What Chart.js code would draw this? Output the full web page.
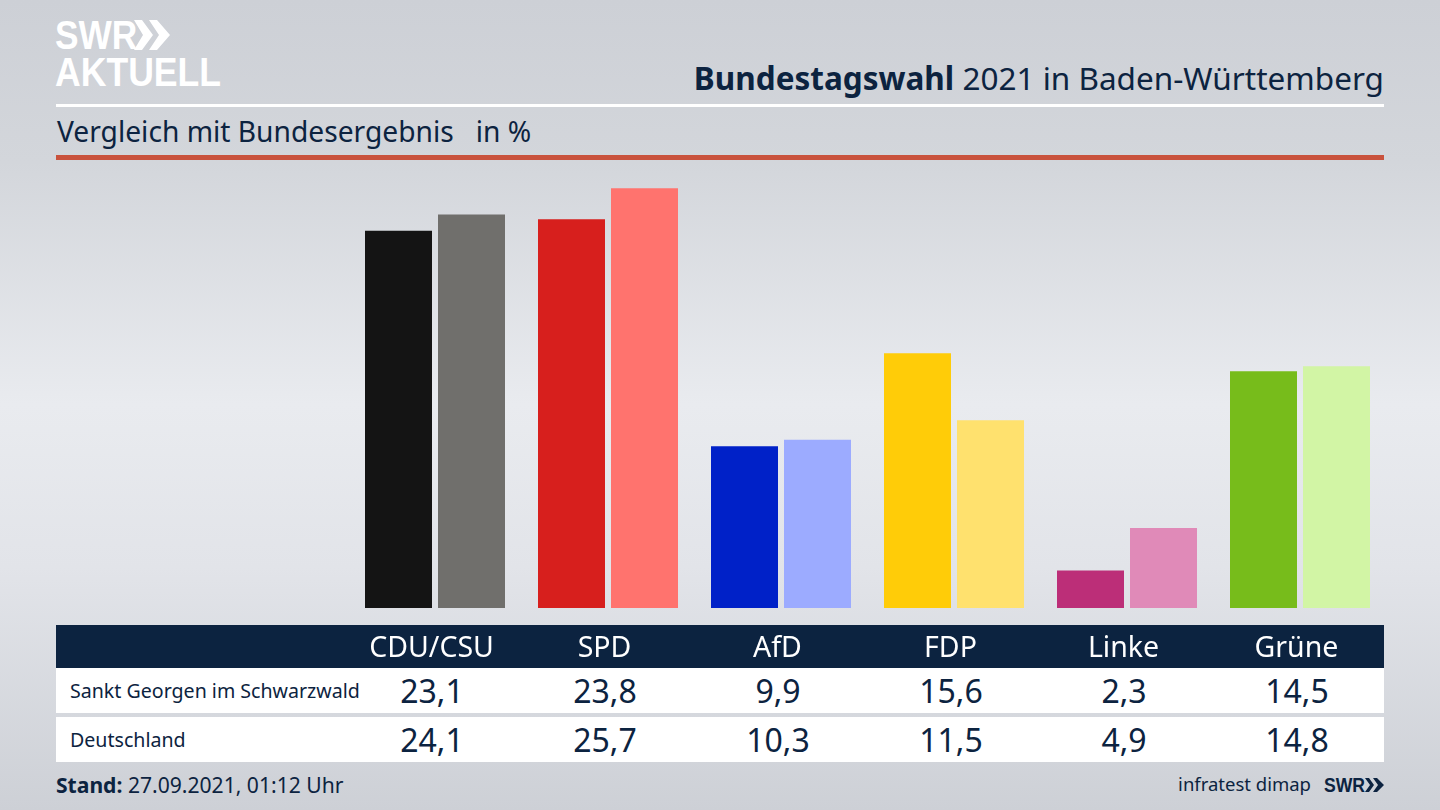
<!DOCTYPE html>
<html lang="de">
<head>
<meta charset="utf-8">
<title>Bundestagswahl 2021 in Baden-Württemberg</title>
<script src="https://cdn.jsdelivr.net/npm/chart.js@4"></script>
<style>
    html, body { margin: 0; padding: 0; }
    body {
        position: relative; width: 1440px; height: 810px; overflow: hidden;
        background: linear-gradient(to bottom, #cdd0d6 0%, #d3d6db 20%, #e9ebef 50%, #e2e4e9 70%, #cdd0d6 100%);
        font-family: "Noto Sans", sans-serif; color: #0c2340;
    }
    .abs { position: absolute; white-space: nowrap; }
    .band { position: absolute; left: 56px; width: 1328px; }
    canvas { position: absolute; left: 0; top: 0; }
    .cell { position: absolute; width: 173px; text-align: center; font-size: 32px; line-height: 45px; }
    .rowLabel { position: absolute; left: 14px; font-size: 19.6px; line-height: 45px; white-space: nowrap; }
    .logo { position: absolute; color: #fff; font-family: "Liberation Sans", sans-serif; font-weight: bold; white-space: nowrap; transform-origin: left center; }
</style>
</head>
<body>
<div class="logo" style="left:55px;top:12px;font-size:41px;line-height:46px;transform:scaleX(0.86)">SWR</div>
<svg class="abs" style="left:134px;top:19px" width="38" height="32">
    <polygon fill="#fff" points="0,1 8,1 19,16 8,31 0,31 9,16"/>
    <polygon fill="#fff" points="15,1 23,1 36,16 23,31 15,31 25,16"/>
</svg>
<div class="logo" style="left:55px;top:49px;font-size:40px;line-height:46px;transform:scaleX(0.89)">AKTUELL</div>

<div class="abs" id="title" style="right:56px;top:56px;font-size:31.5px;line-height:44px"><b>Bundestagswahl</b> 2021 in Baden-Württemberg</div>
<div class="band" style="top:104px;height:3px;background:#fff"></div>
<div class="abs" style="left:57px;top:110px;font-size:28.2px;line-height:42px;white-space:pre">Vergleich mit Bundesergebnis   in %</div>
<div class="band" style="top:155px;height:5px;background:#c9523d"></div>

<div class="band" style="top:625px;height:43px;background:#0c2340"></div>
<div class="band" id="row0" style="top:668px;height:45px;background:#fff"></div>
<div class="band" id="row1" style="top:717px;height:45px;background:#fff"></div>

<div class="abs" style="left:56px;top:770px;font-size:21.1px;line-height:30px"><b>Stand:</b> 27.09.2021, 01:12 Uhr</div>
<div class="abs" style="right:129px;top:769px;font-size:18.5px;line-height:30px">infratest dimap</div>
<div class="abs" style="left:1324px;top:770px;font-family:'Liberation Sans',sans-serif;font-weight:bold;font-size:20px;line-height:30px;transform:scaleX(0.88);transform-origin:left center">SWR</div>
<svg class="abs" style="left:1365px;top:777px" width="20" height="16">
    <polygon fill="#0c2340" points="0,1 4,1 9,8 4,15 0,15 5,8"/>
    <polygon fill="#0c2340" points="8,1 12,1 19,8 12,15 8,15 13,8"/>
</svg>

<canvas id="wahlChart" width="1440" height="810"></canvas>

<script>
// Chart data
const parties = ['CDU/CSU', 'SPD', 'AfD', 'FDP', 'Linke', 'Grüne'];
const rowNames = ['Sankt Georgen im Schwarzwald', 'Deutschland'];
const sanktGeorgen = [23.1, 23.8, 9.9, 15.6, 2.3, 14.5];
const deutschland = [24.1, 25.7, 10.3, 11.5, 4.9, 14.8];
const localColors = ['#141414', '#d71f1d', '#0021c8', '#ffcc08', '#bc2e78', '#77bc1b'];
const nationalColors = ['#706f6c', '#ff736e', '#9cabff', '#ffe16e', '#e08ab8', '#d2f5a5'];

// Format value with German decimal comma
function formatValue(value) {
    return value.toFixed(1).replace('.', ',');
}

// Fill table rows below the chart
function fillRow(rowId, name, values) {
    const row = document.getElementById(rowId);
    const label = document.createElement('div');
    label.className = 'rowLabel';
    label.textContent = name;
    row.appendChild(label);
    values.forEach((value, i) => {
        const cell = document.createElement('div');
        cell.className = 'cell';
        cell.style.left = (289.5 + i * 173) + 'px';
        cell.textContent = formatValue(value);
        row.appendChild(cell);
    });
}

fillRow('row0', rowNames[0], sanktGeorgen);
fillRow('row1', rowNames[1], deutschland);

const ctx = document.getElementById('wahlChart').getContext('2d');

new Chart(ctx, {
    type: 'bar',
    data: {
        labels: parties,
        datasets: [
            {
                label: rowNames[0],
                data: sanktGeorgen,
                backgroundColor: localColors,
                categoryPercentage: 146 / 173,
                barPercentage: 67 / 73
            },
            {
                label: rowNames[1],
                data: deutschland,
                backgroundColor: nationalColors,
                categoryPercentage: 146 / 173,
                barPercentage: 67 / 73
            }
        ]
    },
    options: {
        responsive: false,
        animation: false,
        events: [],
        layout: {
            padding: { left: 348.5, right: 53.5, top: 183.4, bottom: 0 }
        },
        plugins: {
            legend: { display: false },
            title: { display: false },
            tooltip: { enabled: false }
        },
        scales: {
            x: {
                afterFit: function(scale) { scale.height = 202; },
                grid: { display: false },
                border: { display: false },
                ticks: {
                    color: '#ffffff',
                    padding: 16,
                    labelOffset: -3.5,
                    maxRotation: 0,
                    font: { family: '"Noto Sans", sans-serif', size: 28.5 }
                }
            },
            y: {
                display: false,
                min: 0,
                max: 26
            }
        }
    }
});
</script>
</body>
</html>
